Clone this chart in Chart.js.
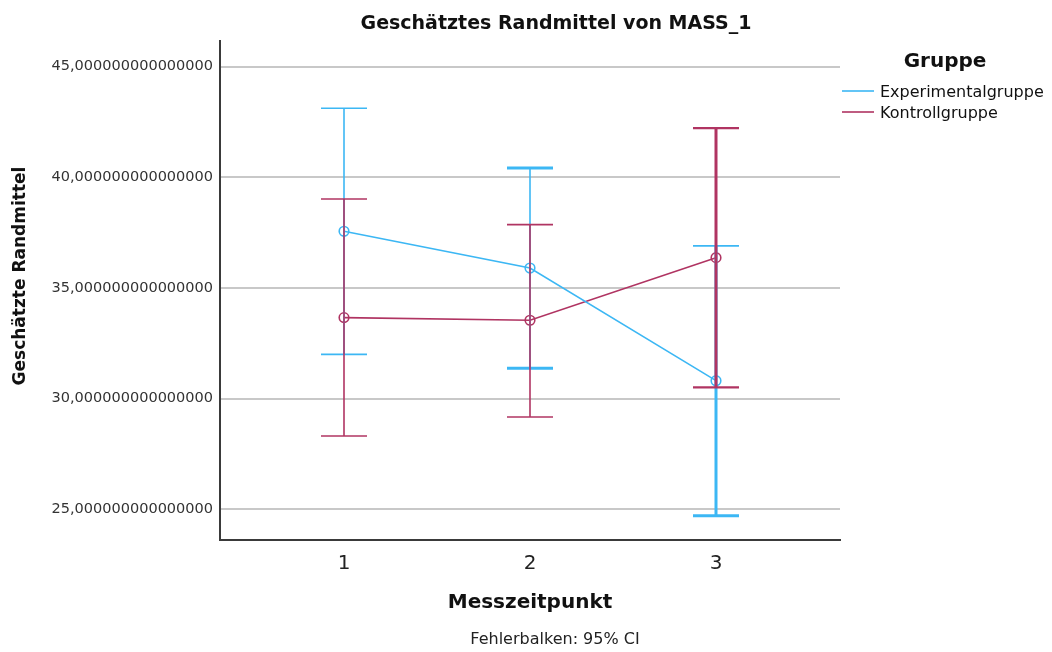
<!DOCTYPE html>
<html>
<head>
<meta charset="utf-8">
<script src="https://cdn.jsdelivr.net/npm/chart.js@4.4.1/dist/chart.umd.min.js"></script>
<style>
  body { margin: 0; background: #fff; }
  #wrap { width: 1052px; height: 652px; }
</style>
</head>
<body>
<div id="wrap"><canvas id="chart" width="1052" height="652"></canvas></div>
<script>
// Messzeitpunkte (x) and their labels
const timepoints = [1, 2, 3];
const xTickLabels = ['1', '2', '3'];

// Geschätzte Randmittel with 95% CI
const groups = ['Experimentalgruppe', 'Kontrollgruppe'];
const expMeans = [37.56, 35.90, 30.81];
const expLower = [32.00, 31.37, 24.71];
const expUpper = [43.12, 40.42, 36.90];
const ctrlMeans = [33.66, 33.54, 36.37];
const ctrlLower = [28.31, 29.17, 30.51];
const ctrlUpper = [39.02, 37.86, 42.22];

// y axis ticks
const yTicks = [25, 30, 35, 40, 45];
const yTickLabels = ['25,000000000000000', '30,000000000000000', '35,000000000000000', '40,000000000000000', '45,000000000000000'];

const FONT = "'DejaVu Sans', sans-serif";
const BLUE = '#3cb7f4';
const RED = '#b03462';

// stroke widths of the error bars: [stem, top cap, bottom cap]
const barStroke = [
  [[1.6, 1.6, 1.6], [1.6, 3, 3], [3, 1.6, 3]],
  [[1.6, 1.6, 1.6], [1.6, 1.6, 1.6], [3, 2.2, 2.2]]
];

const lowers = [expLower, ctrlLower];
const uppers = [expUpper, ctrlUpper];

function toPoints(means) {
  return timepoints.map((t, i) => ({ x: t, y: means[i] }));
}

// draws the CI whiskers through the chart's own scales
const errorBars = {
  id: 'errorBars',
  afterDatasetsDraw(chart) {
    const ctx = chart.ctx;
    const xs = chart.scales.x;
    const ys = chart.scales.y;
    chart.data.datasets.forEach((ds, d) => {
      timepoints.forEach((t, i) => {
        const px = xs.getPixelForValue(t);
        const top = ys.getPixelForValue(uppers[d][i]);
        const bot = ys.getPixelForValue(lowers[d][i]);
        const w = barStroke[d][i];
        ctx.save();
        ctx.strokeStyle = ds.borderColor;
        ctx.lineCap = 'butt';
        ctx.lineWidth = w[0];
        ctx.beginPath();
        ctx.moveTo(px, top);
        ctx.lineTo(px, bot);
        ctx.stroke();
        ctx.lineWidth = w[1];
        ctx.beginPath();
        ctx.moveTo(px - 23, top);
        ctx.lineTo(px + 23, top);
        ctx.stroke();
        ctx.lineWidth = w[2];
        ctx.beginPath();
        ctx.moveTo(px - 23, bot);
        ctx.lineTo(px + 23, bot);
        ctx.stroke();
        ctx.restore();
      });
    });
  }
};

// titles, footer and the legend on the right
const decorations = {
  id: 'decorations',
  afterDraw(chart) {
    const ctx = chart.ctx;
    const area = chart.chartArea;
    ctx.save();
    ctx.fillStyle = '#111';
    ctx.textAlign = 'center';
    ctx.textBaseline = 'middle';

    ctx.font = 'bold 19px ' + FONT;
    ctx.fillText('Geschätztes Randmittel von MASS_1', 556, 24);

    ctx.font = 'bold 20px ' + FONT;
    ctx.fillText('Messzeitpunkt', (area.left + area.right) / 2, 603);

    ctx.font = '16px ' + FONT;
    ctx.fillStyle = '#222';
    ctx.fillText('Fehlerbalken: 95% CI', 555, 640);

    ctx.save();
    ctx.translate(21, 276);
    ctx.rotate(-Math.PI / 2);
    ctx.font = 'bold 17px ' + FONT;
    ctx.fillStyle = '#111';
    ctx.fillText('Geschätzte Randmittel', 0, 0);
    ctx.restore();

    // legend
    ctx.font = 'bold 20px ' + FONT;
    ctx.fillStyle = '#111';
    ctx.fillText('Gruppe', 945, 62);
    ctx.font = '16px ' + FONT;
    ctx.textAlign = 'left';
    chart.data.datasets.forEach((ds, d) => {
      const y = 91 + d * 21;
      ctx.strokeStyle = ds.borderColor;
      ctx.lineWidth = 1.6;
      ctx.beginPath();
      ctx.moveTo(842, y);
      ctx.lineTo(874, y);
      ctx.stroke();
      ctx.fillStyle = '#111';
      ctx.fillText(ds.label, 880, y + 2);
    });
    ctx.restore();
  }
};

new Chart(document.getElementById('chart'), {
  type: 'line',
  data: {
    datasets: [
      {
        label: groups[0],
        data: toPoints(expMeans),
        borderColor: BLUE,
        backgroundColor: 'rgba(0,0,0,0)',
        borderWidth: 1.6,
        pointRadius: 4.8,
        pointBorderWidth: 1.6,
        pointBackgroundColor: 'rgba(0,0,0,0)',
        pointBorderColor: BLUE,
        tension: 0
      },
      {
        label: groups[1],
        data: toPoints(ctrlMeans),
        borderColor: RED,
        backgroundColor: 'rgba(0,0,0,0)',
        borderWidth: 1.6,
        pointRadius: 4.8,
        pointBorderWidth: 1.6,
        pointBackgroundColor: 'rgba(0,0,0,0)',
        pointBorderColor: RED,
        tension: 0
      }
    ]
  },
  options: {
    responsive: false,
    animation: false,
    layout: { padding: { left: 0, top: 41, right: 212, bottom: 0 } },
    plugins: {
      legend: { display: false },
      title: { display: false },
      tooltip: { enabled: false }
    },
    scales: {
      x: {
        type: 'linear',
        min: 1 / 3,
        max: 11 / 3,
        afterFit(scale) { scale.height = 112; },
        afterBuildTicks(scale) { scale.ticks = timepoints.map(v => ({ value: v })); },
        grid: { display: false, drawTicks: false },
        border: { display: true, color: '#3a3a3a', width: 2 },
        ticks: {
          padding: 12,
          color: '#222',
          font: { family: FONT, size: 20 },
          callback: (v) => xTickLabels[timepoints.indexOf(v)]
        }
      },
      y: {
        min: 23.61,
        max: 46.16,
        afterFit(scale) { scale.width = 220; },
        afterBuildTicks(scale) { scale.ticks = yTicks.map(v => ({ value: v })); },
        grid: { color: '#c8c8c8', lineWidth: 2, drawTicks: false },
        border: { display: true, color: '#3a3a3a', width: 2 },
        ticks: {
          padding: 7,
          color: '#333',
          font: { family: FONT, size: 14.5 },
          callback: (v) => yTickLabels[yTicks.indexOf(v)]
        }
      }
    }
  },
  plugins: [errorBars, decorations]
});
</script>
</body>
</html>
